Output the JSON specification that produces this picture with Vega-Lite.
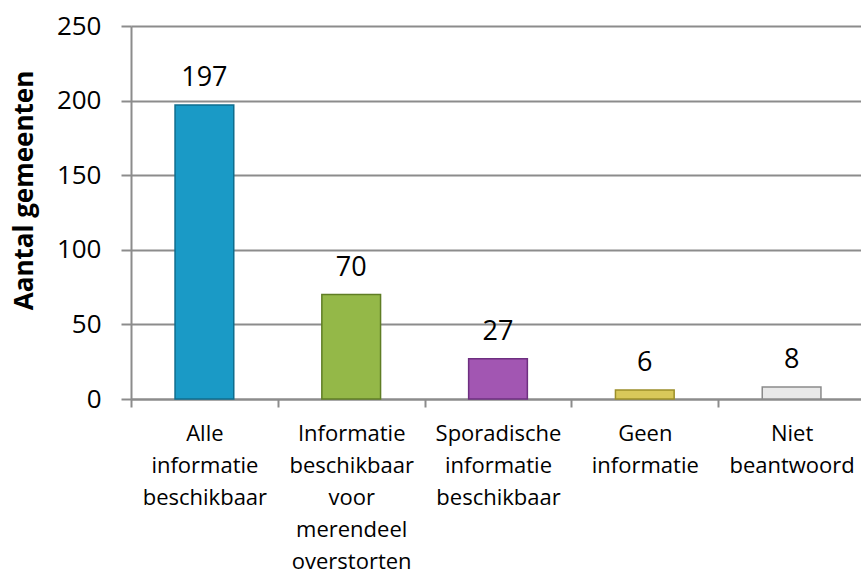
{
  "$schema": "https://vega.github.io/schema/vega-lite/v6.json",
  "width": 734,
  "height": 373,
  "autosize": {"type": "none"},
  "padding": {"left": 131, "top": 26, "right": 0, "bottom": 174},
  "background": "white",
  "config": {
    "view": {"stroke": null},
    "font": "Open Sans"
  },
  "data": {
    "values": [
      {"cat": "Alle|informatie|beschikbaar", "n": 197},
      {"cat": "Informatie|beschikbaar|voor|merendeel|overstorten", "n": 70},
      {"cat": "Sporadische|informatie|beschikbaar", "n": 27},
      {"cat": "Geen|informatie", "n": 6},
      {"cat": "Niet|beantwoord", "n": 8}
    ]
  },
  "encoding": {
    "x": {
      "field": "cat",
      "type": "nominal",
      "sort": null,
      "scale": {"paddingInner": 0, "paddingOuter": 0},
      "axis": {
        "title": null,
        "labelExpr": "split(datum.label, '|')",
        "labelAngle": 0,
        "labelFont": "Open Sans",
        "labelFontSize": 22,
        "labelColor": "#000000",
        "labelLineHeight": 32,
        "labelPadding": 16,
        "labelBaseline": "top",
        "labelOverlap": false,
        "labelBound": false,
        "labelFlush": false,
        "tickBand": "extent",
        "tickColor": "#8c8c8c",
        "tickWidth": 2,
        "tickSize": 8,
        "domainColor": "#8c8c8c",
        "domainWidth": 2,
        "grid": false
      }
    },
    "y": {
      "field": "n",
      "type": "quantitative",
      "scale": {"domain": [0, 250], "nice": false},
      "axis": {
        "title": "Aantal gemeenten",
        "titleFont": "Open Sans",
        "titleFontSize": 26,
        "titleFontWeight": "bold",
        "titleColor": "#000000",
        "titleX": -107,
        "titleY": 164,
        "titleBaseline": "middle",
        "titleAngle": -90,
        "values": [0, 50, 100, 150, 200, 250],
        "labelFont": "Open Sans",
        "labelFontSize": 26,
        "labelColor": "#000000",
        "labelPadding": 20,
        "labelFlush": false,
        "labelBound": false,
        "labelOverlap": false,
        "tickSize": 10,
        "tickColor": "#8c8c8c",
        "tickWidth": 2,
        "domainColor": "#8c8c8c",
        "domainWidth": 2,
        "gridColor": "#8c8c8c",
        "gridWidth": 2
      }
    }
  },
  "layer": [
    {
      "mark": {"type": "bar", "width": {"band": 0.4}, "strokeWidth": 1.5},
      "encoding": {
        "color": {
          "field": "cat",
          "type": "nominal",
          "sort": null,
          "legend": null,
          "scale": {"range": ["#1a9ac6", "#94b848", "#a256b2", "#d8c85a", "#e8e8e8"]}
        },
        "stroke": {
          "field": "cat",
          "type": "nominal",
          "sort": null,
          "legend": null,
          "scale": {"range": ["#0f6d8e", "#5f7d24", "#6e2f80", "#9c8f2a", "#8a8a8a"]}
        }
      }
    },
    {
      "mark": {"type": "text", "baseline": "alphabetic", "dy": -19, "fontSize": 27, "font": "Open Sans", "color": "#000000"},
      "encoding": {
        "text": {"field": "n", "type": "quantitative"}
      }
    }
  ]
}
